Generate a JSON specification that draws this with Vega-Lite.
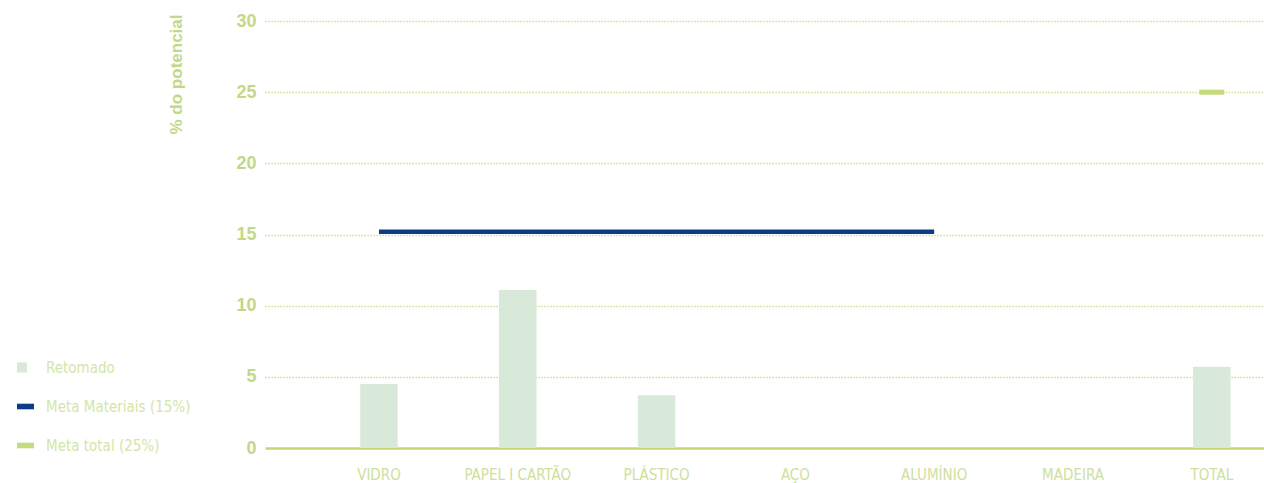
{
  "$schema": "https://vega.github.io/schema/vega-lite/v6.json",
  "width": 999,
  "height": 427,
  "autosize": {"type": "none"},
  "padding": {"left": 265, "top": 21, "right": 0, "bottom": 35},
  "background": "white",
  "config": {"view": {"stroke": null}},
  "datasets": {
    "retomado": [
      {"categoria": "VIDRO", "valor": 4.5},
      {"categoria": "PAPEL I CARTÃO", "valor": 11.1},
      {"categoria": "PLÁSTICO", "valor": 3.7},
      {"categoria": "AÇO", "valor": 0},
      {"categoria": "ALUMÍNIO", "valor": 0},
      {"categoria": "MADEIRA", "valor": 0},
      {"categoria": "TOTAL", "valor": 5.7}
    ],
    "metas": [
      {"serie": "Meta Materiais (15%)", "inicio": "VIDRO", "fim": "ALUMÍNIO", "valor": 15.2},
      {"serie": "Meta total (25%)", "inicio": "TOTAL", "fim": "TOTAL", "valor": 25}
    ],
    "legenda": [
      {"serie": "Retomado"},
      {"serie": "Meta Materiais (15%)"},
      {"serie": "Meta total (25%)"}
    ]
  },
  "layer": [
    {
      "data": {"name": "retomado"},
      "mark": {"type": "bar", "color": "#d8e9da"},
      "encoding": {
        "x": {
          "field": "categoria",
          "type": "nominal",
          "sort": null,
          "scale": {
            "domain": ["VIDRO", "PAPEL I CARTÃO", "PLÁSTICO", "AÇO", "ALUMÍNIO", "MADEIRA", "TOTAL"],
            "paddingInner": 0.73,
            "paddingOuter": 0.4635,
            "align": 0.74
          },
          "axis": {
            "title": null,
            "domain": false,
            "ticks": false,
            "labelAngle": 0,
            "labelPadding": 19,
            "labelFont": "Liberation Sans Narrow, DejaVu Sans Condensed, sans-serif",
            "labelFontSize": 15,
            "labelColor": "#cde0a0"
          }
        },
        "y": {
          "field": "valor",
          "type": "quantitative",
          "scale": {"domain": [0, 30], "nice": false},
          "axis": {
            "values": [0, 5, 10, 15, 20, 25, 30],
            "domain": false,
            "ticks": false,
            "grid": true,
            "gridColor": "#c2d878",
            "gridDash": {"condition": {"test": "datum.value === 0", "value": []}, "value": [1.2, 1.8]},
            "gridWidth": {"condition": {"test": "datum.value === 0", "value": 2.5}, "value": 1.6},
            "gridOpacity": 1,
            "labelFont": "Liberation Sans, Arial, sans-serif",
            "labelFontWeight": "bold",
            "labelFontSize": 18,
            "labelColor": "#c3d886",
            "labelPadding": 9,
            "title": "% do potencial",
            "titleFont": "Liberation Sans, Arial, sans-serif",
            "titleFontWeight": "bold",
            "titleFontSize": 17,
            "titleColor": "#c3d886",
            "titleAngle": -90,
            "titleAlign": "right",
            "titleBaseline": "alphabetic",
            "titleX": -84,
            "titleY": -7
          }
        }
      }
    },
    {
      "data": {"name": "metas"},
      "transform": [{"filter": "datum.serie === 'Meta Materiais (15%)'"}],
      "mark": {"type": "rule", "color": "#0b3d87", "strokeWidth": 4.5},
      "encoding": {
        "x": {"field": "inicio", "type": "nominal"},
        "x2": {"field": "fim"},
        "y": {"field": "valor", "type": "quantitative"}
      }
    },
    {
      "data": {"name": "metas"},
      "transform": [{"filter": "datum.serie === 'Meta total (25%)'"}],
      "mark": {"type": "tick", "color": "#c5db7c", "orient": "horizontal", "size": 25, "thickness": 5, "opacity": 1},
      "encoding": {
        "x": {"field": "inicio", "type": "nominal"},
        "y": {"field": "valor", "type": "quantitative"}
      }
    },
    {
      "data": {"name": "legenda"},
      "mark": {"type": "point", "filled": true, "opacity": 0},
      "encoding": {
        "color": {
          "field": "serie",
          "type": "nominal",
          "scale": {
            "domain": ["Retomado", "Meta Materiais (15%)", "Meta total (25%)"],
            "range": ["#d8e9da", "#0b3d87", "#c5db7c"]
          },
          "legend": {
            "title": null,
            "orient": "none",
            "legendX": -248,
            "legendY": 338,
            "padding": 0,
            "symbolSize": 289,
            "symbolStrokeWidth": 0,
            "rowPadding": 22,
            "labelOffset": 12,
            "labelFont": "Liberation Sans Narrow, DejaVu Sans Condensed, sans-serif",
            "labelFontSize": 15,
            "labelColor": "#d3e5a8",
            "encode": {"symbols": {"update": {"opacity": {"value": 1}}}}
          }
        },
        "shape": {
          "field": "serie",
          "type": "nominal",
          "scale": {
            "domain": ["Retomado", "Meta Materiais (15%)", "Meta total (25%)"],
            "range": ["M-1,-0.6H0.18V0.6H-1Z", "M-1,-0.33H1V0.33H-1Z", "M-1,-0.33H1V0.33H-1Z"]
          }
        }
      }
    }
  ]
}
